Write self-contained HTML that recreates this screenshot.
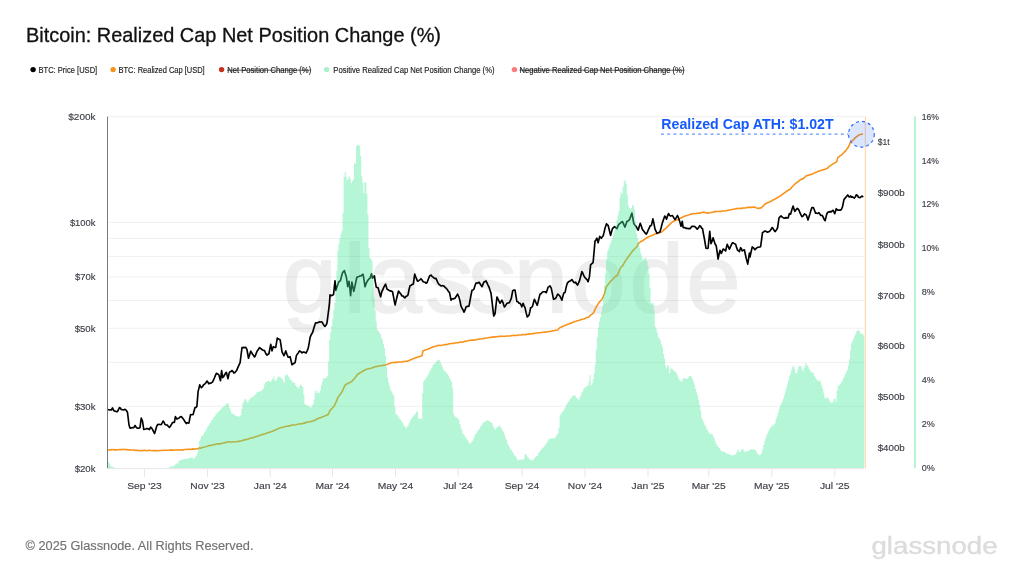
<!DOCTYPE html>
<html lang="en"><head><meta charset="utf-8"><title>Bitcoin: Realized Cap Net Position Change (%)</title>
<style>
html,body{margin:0;padding:0;background:#fff;}
body{width:1024px;height:576px;overflow:hidden;font-family:"Liberation Sans",Arial,Helvetica,sans-serif;}
svg{display:block;}
svg text{font-family:"Liberation Sans",Arial,Helvetica,sans-serif;}
.ax text{font-size:9.6px;fill:#3d4048;stroke:#3d4048;stroke-width:0.15px;}
.lg text{font-size:8.4px;fill:#1c1c1c;stroke:#1c1c1c;stroke-width:0.15px;}
</style></head><body>
<svg width="1024" height="576" viewBox="0 0 1024 576" style="will-change:transform">
<rect width="1024" height="576" fill="#fff"/>
<text x="26" y="41.5" font-size="19.9" fill="#111" stroke="#111" stroke-width="0.3" textLength="415" lengthAdjust="spacingAndGlyphs">Bitcoin: Realized Cap Net Position Change (%)</text>
<g class="lg">
<circle cx="33.1" cy="69.6" r="2.7" fill="#000"/><text x="38.5" y="72.6" textLength="58.7" lengthAdjust="spacingAndGlyphs">BTC: Price [USD]</text>
<circle cx="113.1" cy="69.6" r="2.7" fill="#f7931a"/><text x="118.5" y="72.6" textLength="86.2" lengthAdjust="spacingAndGlyphs">BTC: Realized Cap [USD]</text>
<circle cx="221.6" cy="69.6" r="2.7" fill="#c4321c"/><text x="227.2" y="72.6" textLength="84" lengthAdjust="spacingAndGlyphs">Net Position Change (%)</text><line x1="227.2" x2="311.2" y1="70.2" y2="70.2" stroke="#1c1c1c" stroke-width="0.7"/>
<circle cx="326.6" cy="69.6" r="2.7" fill="#a9f2cd"/><text x="333.3" y="72.6" textLength="161.2" lengthAdjust="spacingAndGlyphs">Positive Realized Cap Net Position Change (%)</text>
<circle cx="514.4" cy="69.6" r="2.7" fill="#ff7a7a"/><text x="519.5" y="72.6" textLength="165" lengthAdjust="spacingAndGlyphs">Negative Realized Cap Net Position Change (%)</text><line x1="519.5" x2="684.5" y1="70.2" y2="70.2" stroke="#1c1c1c" stroke-width="0.7"/>
</g>
<g stroke="#f1f1f1" stroke-width="1" shape-rendering="auto"><line x1="108.0" x2="864.5" y1="116.60" y2="116.60"/><line x1="108.0" x2="864.5" y1="222.46" y2="222.46"/><line x1="108.0" x2="864.5" y1="238.55" y2="238.55"/><line x1="108.0" x2="864.5" y1="256.54" y2="256.54"/><line x1="108.0" x2="864.5" y1="276.93" y2="276.93"/><line x1="108.0" x2="864.5" y1="300.47" y2="300.47"/><line x1="108.0" x2="864.5" y1="328.31" y2="328.31"/><line x1="108.0" x2="864.5" y1="362.39" y2="362.39"/><line x1="108.0" x2="864.5" y1="406.33" y2="406.33"/></g>
<g opacity="0.062"><text x="282.4 344 368.1 425.4 468.3 514 571.6 629.8 686.6" y="312" font-size="97" fill="#000" stroke="#000" stroke-width="2" stroke-linejoin="round">glassnode</text></g>
<polyline points="108.10,449.93 109.16,449.79 110.21,449.96 111.27,449.64 112.32,449.78 113.38,449.54 114.44,449.85 115.49,449.82 116.55,449.92 117.61,449.71 118.66,449.73 119.72,449.64 120.78,449.53 121.83,449.58 122.89,449.41 123.94,449.44 125.00,449.53 126.04,449.60 127.08,449.61 128.12,449.98 129.17,449.88 130.21,449.83 131.25,449.96 132.29,449.96 133.33,450.04 134.38,450.11 135.42,450.47 136.46,450.40 137.50,450.42 138.54,450.50 139.58,450.69 140.62,450.49 141.67,450.39 142.71,450.73 143.75,450.38 144.79,450.41 145.83,450.55 146.88,450.79 147.92,450.48 148.96,450.22 150.00,450.52 151.04,450.48 152.08,450.49 153.12,450.60 154.17,450.62 155.21,450.64 156.25,450.58 157.29,450.71 158.33,450.76 159.38,450.57 160.42,450.43 161.46,450.51 162.50,450.48 163.54,450.27 164.58,450.25 165.62,450.40 166.67,450.29 167.71,450.20 168.75,450.22 169.79,450.17 170.83,450.13 171.88,449.87 172.92,450.21 173.96,450.10 175.00,449.96 176.04,450.04 177.08,449.96 178.12,449.87 179.17,449.93 180.21,450.06 181.25,449.86 182.29,449.89 183.33,449.93 184.38,449.53 185.42,449.43 186.46,449.52 187.50,449.31 188.50,449.25 189.50,449.40 190.50,449.37 191.50,449.26 192.50,448.88 193.50,449.23 194.50,449.08 195.50,449.01 196.50,448.91 197.50,448.66 198.50,448.27 199.50,448.04 200.50,448.17 201.50,447.70 202.50,447.46 203.50,447.21 204.50,447.06 205.50,446.83 206.50,446.56 207.50,446.12 208.50,445.58 209.50,445.64 210.50,445.50 211.50,445.40 212.50,445.02 213.53,444.74 214.57,444.64 215.60,444.24 216.63,444.05 217.67,443.86 218.70,443.82 219.73,443.89 220.77,443.62 221.80,443.45 222.83,443.15 223.87,442.93 224.90,442.64 225.93,442.44 226.97,441.99 228.00,441.98 229.00,441.80 230.00,441.99 231.00,441.98 232.00,441.98 233.00,441.98 234.00,441.71 235.00,441.74 236.00,441.81 237.00,441.54 238.00,441.55 239.00,441.35 240.00,441.16 241.00,440.93 242.00,440.57 243.00,440.38 244.00,440.06 245.00,439.85 246.00,439.30 247.00,439.44 248.00,439.20 249.00,438.72 250.00,438.31 251.00,438.10 252.00,437.92 253.00,437.64 254.00,437.35 255.00,436.89 256.03,436.46 257.06,436.42 258.09,436.04 259.12,435.48 260.15,435.16 261.18,434.75 262.21,434.44 263.24,434.38 264.26,433.95 265.29,433.75 266.32,433.34 267.35,432.78 268.38,432.48 269.41,432.50 270.44,431.91 271.47,431.45 272.50,431.31 273.56,430.83 274.61,430.33 275.67,430.04 276.73,429.23 277.79,428.93 278.84,428.34 279.90,427.90 280.96,427.58 282.02,427.57 283.08,427.23 284.14,426.74 285.20,426.50 286.26,426.57 287.32,426.34 288.38,425.84 289.44,425.93 290.50,425.42 291.54,425.11 292.58,425.03 293.62,425.02 294.67,424.99 295.71,424.80 296.75,424.46 297.79,424.22 298.83,423.93 299.88,423.91 300.92,423.72 301.96,423.66 303.00,423.42 304.00,423.14 305.00,422.86 306.00,422.56 307.00,422.30 308.00,422.06 309.00,421.80 310.00,421.76 311.00,421.52 312.00,421.09 313.00,421.01 314.00,420.54 315.00,420.19 316.00,419.53 317.00,418.98 318.00,418.46 319.00,418.11 320.00,417.81 321.00,417.41 322.00,416.98 323.00,416.69 324.00,416.28 325.00,415.91 326.00,415.40 327.00,415.12 328.00,414.69 329.25,412.11 330.50,409.74 331.44,409.06 332.38,408.07 333.31,407.00 334.25,406.00 335.19,403.93 336.12,401.83 337.06,399.65 338.00,397.27 338.94,396.04 339.88,394.72 340.81,393.46 341.75,392.19 342.69,390.31 343.62,388.22 344.56,386.39 345.50,384.74 346.54,384.11 347.58,383.73 348.62,383.03 349.67,382.56 350.71,382.15 351.75,381.54 352.81,380.23 353.88,379.37 354.94,377.85 356.00,376.56 357.50,374.45 358.62,373.73 359.75,372.99 360.88,372.37 362.00,371.57 363.06,370.99 364.12,370.45 365.19,369.81 366.25,369.38 367.34,368.99 368.44,368.85 369.53,368.50 370.62,368.23 371.72,367.93 372.81,367.46 373.91,367.36 375.00,366.76 376.00,366.50 377.00,366.33 378.00,366.34 379.00,366.07 380.00,365.79 381.00,365.73 382.00,365.67 383.00,365.38 384.00,365.15 385.00,365.06 386.07,364.80 387.14,364.45 388.21,363.88 389.29,363.59 390.36,363.27 391.43,362.65 392.50,362.54 393.57,362.47 394.64,362.33 395.71,362.55 396.79,362.31 397.86,362.08 398.93,362.05 400.00,362.03 401.07,362.01 402.14,361.81 403.21,361.58 404.29,361.46 405.36,361.33 406.43,361.19 407.50,361.22 408.57,360.71 409.64,360.31 410.71,359.75 411.79,359.25 412.86,358.86 413.93,358.40 415.00,358.06 416.00,357.60 417.00,357.36 418.00,357.03 419.00,356.55 420.00,356.43 421.00,356.10 422.00,355.63 423.00,350.75 424.00,350.51 425.00,349.97 426.00,349.87 427.00,349.40 428.00,348.85 429.00,348.64 430.00,348.23 431.07,347.68 432.14,347.15 433.21,347.01 434.29,346.57 435.36,346.33 436.43,345.95 437.50,345.48 438.58,345.30 439.67,345.46 440.75,345.42 441.83,345.21 442.92,344.92 444.00,344.74 445.00,344.55 446.00,344.65 447.00,344.41 448.00,344.13 449.00,343.82 450.00,343.79 451.00,343.53 452.00,343.45 453.00,343.40 454.00,343.32 455.00,343.06 456.00,342.82 457.00,342.70 458.00,342.75 459.00,342.47 460.00,342.13 461.00,342.18 462.00,341.94 463.00,342.14 464.00,341.60 465.00,341.36 466.00,341.15 467.00,341.05 468.00,340.78 469.00,340.47 470.00,340.35 471.00,340.25 472.00,340.11 473.00,339.95 474.00,340.13 475.00,339.92 476.00,339.78 477.00,339.44 478.00,339.33 479.00,339.13 480.00,338.99 481.00,338.93 482.00,338.80 483.00,338.62 484.00,338.44 485.00,338.09 486.00,337.96 487.00,337.95 488.00,337.76 489.00,337.54 490.00,337.51 491.00,337.24 492.00,337.09 493.00,337.12 494.00,336.88 495.00,336.83 496.00,336.81 497.00,336.77 498.00,336.75 499.00,336.31 500.00,336.39 501.00,336.22 502.00,336.24 503.00,336.24 504.00,336.37 505.00,336.21 506.00,336.33 507.00,336.06 508.00,336.00 509.00,335.93 510.00,335.95 511.00,335.78 512.00,335.60 513.00,335.52 514.00,335.31 515.00,335.51 516.00,335.45 517.00,335.34 518.00,335.23 519.00,335.03 520.00,334.97 521.03,334.96 522.06,334.69 523.09,334.53 524.12,334.69 525.15,334.65 526.18,334.40 527.21,334.27 528.24,334.11 529.26,334.13 530.29,333.83 531.32,333.72 532.35,333.65 533.38,333.66 534.41,333.38 535.44,333.27 536.47,333.07 537.50,332.95 538.54,332.77 539.58,332.73 540.62,332.73 541.67,332.45 542.71,332.29 543.75,332.17 544.79,332.15 545.83,332.09 546.88,331.75 547.92,331.76 548.96,331.51 550.00,331.53 551.07,331.18 552.14,330.91 553.21,330.72 554.29,330.60 555.36,330.29 556.43,330.20 557.50,330.01 558.75,328.76 560.00,327.52 561.09,327.18 562.19,326.57 563.28,326.17 564.38,325.74 565.47,325.06 566.56,324.85 567.66,324.34 568.75,323.94 569.79,323.48 570.83,323.12 571.88,322.74 572.92,322.34 573.96,321.77 575.00,321.43 576.04,321.15 577.08,320.74 578.12,320.44 579.17,320.23 580.21,319.90 581.25,319.55 582.32,319.19 583.39,318.94 584.46,318.74 585.54,318.22 586.61,317.57 587.68,317.52 588.75,316.99 589.84,315.89 590.92,314.79 592.01,314.14 593.10,313.31 594.15,311.32 595.20,309.08 596.25,307.09 597.30,305.38 598.35,303.61 599.40,302.00 600.65,300.77 601.90,299.51 603.15,296.75 604.40,293.78 605.33,290.56 606.25,286.98 607.19,285.82 608.12,284.42 609.06,283.25 610.00,281.99 610.94,280.87 611.88,280.11 612.81,279.26 613.75,278.19 614.69,277.18 615.62,276.51 616.56,275.74 617.50,275.08 618.53,272.56 619.57,270.22 620.60,267.57 621.85,266.31 623.10,265.11 624.15,262.98 625.20,261.32 626.25,259.66 627.29,258.23 628.33,256.85 629.38,255.41 630.42,254.04 631.46,252.41 632.50,251.01 633.60,249.89 634.70,248.80 635.80,247.74 636.90,246.59 637.83,244.77 638.75,242.90 639.75,242.39 640.75,241.66 641.75,241.05 642.75,240.70 643.75,239.84 644.75,239.23 645.75,238.65 646.75,237.79 647.75,237.29 648.75,236.65 649.79,236.27 650.83,235.91 651.88,235.49 652.92,235.12 653.96,234.49 655.00,234.12 656.04,233.74 657.08,233.62 658.12,233.23 659.17,232.73 660.21,232.53 661.25,232.19 662.19,231.54 663.12,230.66 664.06,229.62 665.00,229.04 666.00,228.18 667.00,227.16 668.00,226.04 669.00,225.16 670.00,224.14 671.25,223.05 672.50,221.68 673.54,221.28 674.58,220.70 675.62,220.36 676.67,219.97 677.71,219.53 678.75,219.13 679.79,218.46 680.83,218.10 681.88,217.56 682.92,217.08 683.96,216.52 685.00,215.98 686.07,215.70 687.14,215.46 688.21,215.03 689.29,214.75 690.36,214.31 691.43,214.10 692.50,213.75 693.57,213.52 694.64,213.69 695.71,213.44 696.79,213.42 697.86,213.20 698.93,213.02 700.00,213.20 700.94,212.80 701.88,212.43 702.81,212.37 703.75,212.14 704.84,212.37 705.92,212.87 707.01,212.90 708.10,213.12 709.09,212.97 710.07,212.73 711.06,212.46 712.04,212.42 713.03,212.07 714.01,211.87 715.00,211.61 716.00,211.40 717.00,211.48 718.00,211.43 719.00,211.44 720.00,211.41 721.00,211.46 722.00,211.02 723.00,211.01 724.00,210.97 725.00,210.94 726.04,210.80 727.08,210.58 728.12,210.39 729.17,209.98 730.21,209.79 731.25,209.69 732.29,209.47 733.33,209.24 734.38,209.08 735.42,208.87 736.46,208.57 737.50,208.58 738.54,208.40 739.58,208.43 740.62,208.39 741.67,208.38 742.71,208.14 743.75,208.04 744.77,208.01 745.80,207.94 746.82,207.53 747.84,207.31 748.86,207.42 749.89,207.40 750.91,207.34 751.93,207.33 752.95,207.09 753.98,207.38 755.00,207.10 756.03,207.71 757.07,208.10 758.10,208.39 759.15,208.26 760.20,208.02 761.25,207.91 762.19,206.95 763.12,206.08 764.06,204.97 765.00,204.07 766.00,203.58 767.00,203.00 768.00,202.52 769.00,202.15 770.00,201.72 771.00,201.15 772.00,200.71 773.00,200.00 774.00,199.52 775.00,199.11 776.00,198.55 777.00,197.76 778.00,197.28 779.00,196.65 780.00,196.08 781.00,195.46 782.00,194.71 783.00,193.89 784.00,193.23 785.00,192.45 786.00,191.75 787.00,191.00 788.00,190.41 789.00,189.80 790.00,189.36 791.00,188.29 792.00,187.04 793.00,186.04 794.00,185.03 795.00,183.96 796.00,183.16 797.00,182.41 798.00,181.59 799.00,180.96 800.00,180.02 801.03,179.61 802.07,178.89 803.10,178.76 804.15,177.94 805.20,176.69 806.25,175.94 807.25,175.50 808.25,175.13 809.25,174.97 810.25,174.66 811.25,174.54 812.29,173.98 813.33,173.39 814.38,173.00 815.42,172.60 816.46,172.19 817.50,171.65 818.57,171.11 819.64,170.79 820.71,170.53 821.79,170.14 822.86,169.97 823.93,169.56 825.00,169.24 826.25,168.70 827.50,168.24 828.75,166.82 830.00,165.85 831.12,165.11 832.24,164.40 833.36,163.62 834.48,163.15 835.60,162.51 836.90,161.39 837.75,157.67 838.92,156.88 840.08,155.91 841.25,155.17 842.19,154.19 843.12,153.25 844.06,152.33 845.00,151.37 846.03,150.16 847.07,148.73 848.10,147.47 849.35,144.86 850.60,141.97 851.85,140.99 853.10,140.11 854.15,139.01 855.20,137.88 856.25,136.96 857.30,136.11 858.35,135.52 859.40,134.73 860.35,134.42 861.30,134.26 862.25,133.90" fill="none" stroke="#f7931a" stroke-width="1.6" stroke-linejoin="round" stroke-linecap="round"/>
<polyline points="108.50,409.71 109.42,409.96 110.33,409.89 111.25,409.95 112.50,407.95 113.75,410.52 114.69,411.14 115.62,411.31 116.56,411.73 117.50,411.69 118.45,409.72 119.40,407.55 120.33,407.98 121.25,409.46 122.34,409.74 123.42,409.91 124.51,409.40 125.60,409.67 126.55,410.79 127.50,412.36 129.00,425.00 130.00,428.09 130.94,428.10 131.88,427.65 132.81,427.70 133.75,427.57 135.00,425.52 136.25,427.32 137.50,428.25 138.75,428.25 140.00,427.47 141.25,417.98 142.50,421.16 143.75,429.36 144.80,429.26 145.85,428.92 146.90,428.45 148.15,428.81 149.40,429.62 150.60,427.05 151.55,427.99 152.50,429.41 153.55,431.71 154.60,433.55 155.75,429.57 156.90,425.78 157.82,424.50 158.75,424.28 160.00,424.47 161.25,424.61 162.18,422.94 163.10,421.00 164.05,422.26 165.00,424.46 166.25,424.94 167.50,425.18 168.45,426.66 169.40,427.39 170.32,426.24 171.25,424.82 172.50,422.54 173.45,422.34 174.40,422.41 175.40,416.68 176.90,419.19 177.82,418.46 178.75,418.25 180.00,416.98 181.25,416.60 182.50,418.04 183.75,419.60 185.00,421.87 186.25,423.51 187.17,422.63 188.08,423.15 189.00,422.97 189.80,418.33 190.60,414.48 191.85,414.78 193.10,414.48 194.05,411.07 195.00,407.58 195.95,407.40 196.90,406.42 198.10,391.38 198.93,388.37 199.75,384.80 200.57,386.52 201.40,387.68 202.43,386.74 203.47,384.92 204.50,384.23 205.75,382.97 207.00,381.00 207.95,382.30 208.90,383.87 209.82,382.97 210.75,383.21 211.68,382.64 212.60,381.92 213.55,379.81 214.50,377.73 215.45,375.40 216.40,373.29 217.65,373.96 218.90,374.92 219.70,378.07 220.50,380.64 221.60,370.48 222.60,377.61 223.55,376.75 224.50,375.02 225.45,373.34 226.40,372.42 227.20,375.53 228.00,378.69 229.25,372.69 230.17,371.67 231.08,371.55 232.00,370.46 232.95,371.53 233.90,373.15 235.15,372.22 236.40,370.78 237.32,368.79 238.25,366.66 239.18,364.60 240.10,362.60 241.05,355.01 242.00,347.54 242.94,347.63 243.88,347.43 244.81,347.56 245.75,347.37 247.00,349.74 248.50,358.25 249.62,354.64 250.75,351.19 251.69,352.62 252.62,354.34 253.56,355.47 254.50,356.95 255.45,355.58 256.40,352.80 257.43,350.72 258.47,349.29 259.50,347.55 260.53,348.43 261.57,349.07 262.60,350.08 263.55,350.43 264.50,350.54 265.75,353.49 267.00,355.16 267.95,354.30 268.90,353.72 269.82,348.99 270.75,344.38 272.00,350.83 273.25,346.70 274.50,347.38 275.75,347.35 277.25,338.05 278.20,338.79 279.15,339.30 280.10,339.67 281.05,345.30 282.00,351.80 282.95,353.58 283.90,355.67 284.82,353.79 285.75,350.90 287.00,354.49 288.25,357.30 289.18,357.29 290.10,356.69 291.05,360.68 292.00,364.77 293.03,363.96 294.07,363.27 295.10,362.63 296.40,355.66 297.43,353.94 298.47,352.73 299.50,350.83 300.75,351.60 302.00,352.92 302.95,352.11 303.90,352.02 304.95,352.49 306.00,353.12 307.12,350.82 308.25,348.17 309.18,343.03 310.10,337.31 311.35,334.43 312.60,332.51 313.60,329.05 314.60,325.77 315.60,322.72 316.65,322.88 317.70,322.62 318.75,322.26 319.80,321.88 320.85,321.96 321.90,321.82 322.93,323.59 323.97,325.45 325.00,326.34 325.95,325.26 326.90,323.46 328.15,313.95 329.40,304.22 330.00,294.88 331.25,295.77 332.38,295.08 333.50,294.78 335.00,280.82 335.90,290.35 336.85,287.04 337.80,284.59 338.75,281.67 339.68,281.35 340.60,280.16 341.55,276.16 342.50,272.72 343.45,271.66 344.40,270.54 345.32,273.90 346.25,276.43 347.75,286.66 349.00,281.24 349.80,287.92 350.60,295.78 351.90,282.06 352.82,286.55 353.75,291.38 354.80,286.84 355.85,281.89 356.90,277.21 357.93,276.69 358.97,276.51 360.00,276.03 361.03,275.90 362.07,274.74 363.10,274.38 364.05,280.14 365.00,286.76 366.25,283.15 367.50,280.80 368.75,279.16 370.00,278.20 371.50,273.86 372.50,278.23 373.45,276.81 374.40,275.76 375.32,281.92 376.25,287.09 377.18,287.51 378.10,287.78 379.35,292.35 380.60,296.82 381.90,291.26 382.82,289.79 383.75,287.28 384.68,285.54 385.60,284.11 387.00,289.15 388.10,289.69 389.20,290.47 390.30,290.93 391.40,291.09 392.50,291.72 393.37,295.97 394.23,300.84 395.10,304.94 396.23,300.13 397.37,295.54 398.50,291.02 399.67,292.66 400.83,294.02 402.00,295.99 403.00,295.95 404.00,297.22 405.00,297.89 406.00,296.35 407.00,296.02 408.00,294.96 409.00,289.81 410.00,285.76 411.10,285.28 412.20,284.51 413.30,284.09 414.70,274.14 415.63,276.62 416.57,278.85 417.50,281.23 418.67,280.67 419.83,279.90 421.00,278.72 422.00,280.10 423.00,281.42 424.00,282.02 425.00,282.20 426.00,283.21 427.00,282.82 428.20,279.53 429.40,276.37 430.32,275.44 431.25,275.09 432.17,276.62 433.08,277.15 434.00,278.11 435.00,278.58 436.00,278.41 437.00,280.67 438.00,283.03 439.00,284.27 440.00,285.07 441.00,285.98 442.00,285.68 443.00,285.80 444.00,286.10 445.17,287.43 446.33,288.44 447.50,289.84 448.50,291.70 449.50,292.28 451.00,300.18 452.00,298.83 453.00,298.99 454.00,298.64 455.00,298.27 456.25,296.29 457.50,294.03 459.00,297.09 460.00,300.97 461.00,306.08 462.00,308.14 463.00,309.83 464.00,312.17 465.00,310.15 466.00,306.89 467.00,306.40 468.00,306.34 469.00,306.03 470.00,300.56 471.00,295.01 472.00,290.27 473.00,289.97 474.00,288.89 475.00,285.53 476.00,283.19 477.00,283.07 478.00,283.00 479.00,282.22 480.00,283.54 481.00,285.37 482.00,286.68 483.00,284.08 484.00,281.93 485.00,281.61 486.00,280.91 487.00,282.91 488.00,285.11 489.00,287.07 490.00,290.24 491.00,293.07 491.92,300.61 492.83,308.55 493.75,316.04 495.00,313.89 496.00,305.25 497.00,296.96 498.00,299.03 499.00,301.20 500.00,303.25 500.95,301.73 501.90,300.09 503.15,303.17 504.40,307.01 505.65,305.44 506.90,303.36 508.15,302.94 509.40,302.67 510.32,300.50 511.25,298.58 512.75,290.66 513.88,290.09 515.00,290.16 515.95,295.76 516.90,301.56 517.93,301.84 518.97,303.13 520.00,303.24 520.95,304.71 521.90,306.82 523.10,303.27 524.05,305.59 525.00,307.65 526.12,312.65 527.25,316.93 528.12,316.03 529.00,315.20 529.80,311.91 530.60,307.83 531.55,307.44 532.50,306.30 533.45,302.72 534.40,299.34 535.35,301.17 536.30,303.46 537.25,305.24 538.17,301.72 539.08,297.68 540.00,294.29 541.25,293.56 542.50,292.06 543.75,291.76 545.00,291.80 546.25,292.67 547.17,290.10 548.10,287.19 549.05,286.62 550.00,285.84 551.25,288.23 552.38,293.67 553.50,299.08 554.55,298.92 555.60,298.31 556.67,296.36 557.75,294.02 558.75,294.96 559.75,295.78 560.83,297.87 561.90,300.19 562.83,296.42 563.75,293.12 565.00,292.56 565.95,288.09 566.90,284.37 567.70,282.57 568.50,281.80 569.63,281.21 570.77,280.52 571.90,279.52 572.83,280.99 573.75,282.38 574.67,282.72 575.60,282.14 576.55,283.96 577.50,285.03 578.45,283.15 579.40,281.11 580.65,276.46 581.90,271.55 582.83,273.10 583.75,275.67 584.88,277.47 586.00,278.66 587.05,279.76 588.10,281.74 589.40,276.83 590.60,264.84 591.85,263.70 593.10,262.62 594.05,252.00 595.00,241.14 595.95,239.98 596.90,238.15 598.10,242.78 598.92,239.53 599.75,236.41 601.25,238.28 602.17,237.09 603.10,235.98 604.05,232.38 605.00,228.28 606.50,223.85 607.30,224.59 608.10,225.35 609.35,230.27 610.60,235.37 611.55,231.71 612.50,228.57 613.45,227.70 614.40,226.61 615.65,227.48 616.90,228.69 618.15,225.58 619.40,223.83 620.43,223.11 621.47,221.94 622.50,221.56 623.75,224.44 625.00,227.05 625.95,224.23 626.90,221.52 628.15,220.77 629.40,219.86 630.65,216.55 631.90,213.13 632.83,218.26 633.75,223.47 635.00,225.25 636.25,226.67 637.17,228.33 638.10,230.17 639.17,226.70 640.25,223.35 641.38,226.20 642.50,229.67 643.44,230.64 644.38,231.90 645.31,233.16 646.25,234.06 647.19,232.75 648.12,230.16 649.06,228.39 650.00,226.07 651.50,225.19 652.90,218.80 653.95,223.69 655.00,229.08 655.95,231.17 656.90,233.28 657.93,232.79 658.97,232.51 660.00,231.79 661.25,227.32 662.50,222.39 663.62,219.16 664.75,216.08 665.62,217.28 666.50,219.24 667.50,216.08 668.50,213.50 669.55,215.39 670.60,216.06 671.55,215.74 672.50,215.58 673.75,217.69 675.00,219.65 676.25,217.59 677.50,215.49 679.00,219.23 680.00,222.40 681.00,226.24 682.25,221.32 683.10,227.35 684.05,227.64 685.00,227.66 685.95,228.40 686.90,228.20 687.93,228.59 688.97,228.49 690.00,228.63 690.95,227.52 691.90,226.22 692.93,226.33 693.97,226.24 695.00,226.70 696.12,227.89 697.25,229.15 698.50,227.74 699.75,225.64 700.67,226.42 701.58,228.15 702.50,228.60 703.45,233.95 704.40,238.75 705.20,243.61 706.00,248.23 707.05,248.57 708.10,248.16 708.92,239.54 709.75,231.34 711.00,243.78 712.05,241.16 713.10,237.86 714.05,240.80 715.00,243.75 716.25,245.97 717.17,252.20 718.10,259.05 719.05,254.29 720.00,250.32 721.25,253.52 722.17,251.45 723.10,249.09 724.35,249.77 725.60,250.98 726.42,247.39 727.25,244.31 728.33,246.96 729.40,249.14 730.43,246.91 731.47,244.72 732.50,242.72 733.53,243.09 734.57,243.72 735.60,244.18 736.55,247.14 737.50,250.10 738.45,250.67 739.40,251.60 740.60,247.67 741.42,248.82 742.25,250.88 743.33,250.35 744.40,249.77 745.33,254.26 746.25,258.48 747.75,264.15 748.58,258.55 749.40,253.02 750.00,257.00 751.12,251.71 752.25,246.94 753.17,247.57 754.08,248.42 755.00,249.78 756.25,248.32 757.50,247.32 758.53,247.30 759.57,246.99 760.60,246.70 761.55,239.78 762.50,232.69 763.75,231.82 765.00,231.05 766.25,231.50 767.50,232.22 768.75,231.83 770.00,230.90 771.12,229.26 772.25,227.55 773.17,228.71 774.08,230.20 775.00,231.58 776.25,230.20 777.50,228.02 779.00,218.07 780.00,216.84 781.00,215.98 782.05,216.94 783.10,217.63 784.10,218.17 785.10,218.25 786.10,217.48 787.10,218.00 788.10,217.89 789.40,213.57 790.60,214.17 791.85,209.70 793.10,206.01 794.00,209.14 794.90,211.37 796.05,209.68 797.20,208.35 798.15,209.03 799.10,210.47 800.03,212.99 800.97,214.78 801.90,216.58 802.80,216.38 803.70,214.89 804.60,213.91 805.42,214.55 806.25,215.00 807.12,217.30 808.00,219.99 809.00,216.86 810.00,213.63 810.95,210.28 811.90,207.61 812.70,207.49 813.50,207.74 814.55,210.49 815.60,213.29 816.70,213.19 817.80,213.44 819.00,212.75 819.80,213.89 820.60,215.33 821.55,215.35 822.50,215.79 823.37,217.65 824.23,219.59 825.10,220.72 826.00,217.14 826.90,213.63 827.95,212.32 829.00,211.84 830.12,211.66 831.25,211.92 832.17,210.92 833.10,210.25 833.92,211.98 834.75,213.76 836.25,208.67 837.17,209.72 838.10,210.24 839.15,209.98 840.20,210.17 841.25,209.78 842.50,206.73 844.00,199.35 844.80,198.67 845.60,197.51 846.67,196.35 847.75,194.92 849.00,196.92 849.80,196.96 850.60,195.97 851.55,197.14 852.50,196.91 853.45,197.51 854.40,198.13 855.33,196.87 856.25,194.86 857.38,195.41 858.50,197.23 860.00,197.61 860.95,196.81 861.90,196.03 862.75,196.60" fill="none" stroke="#000" stroke-width="1.65" stroke-linejoin="round" stroke-linecap="round"/>
<path d="M108,468.25 L108.00,461.88 L109.03,461.88 L109.03,463.44 L110.07,463.44 L110.07,465.57 L111.10,465.57 L111.10,466.79 L112.13,466.79 L112.13,466.72 L113.17,466.72 L113.17,467.36 L114.20,467.36 L114.20,467.76 L115.23,467.76 L115.23,468.18 L116.27,468.18 L116.27,468.01 L117.30,468.01 L117.30,468.21 L118.34,468.21 L118.34,468.25 L119.37,468.25 L119.37,468.25 L120.40,468.25 L120.40,468.25 L121.44,468.25 L121.44,468.25 L122.47,468.25 L122.47,468.25 L123.50,468.25 L123.50,468.25 L124.54,468.25 L124.54,468.25 L125.57,468.25 L125.57,468.25 L126.60,468.25 L126.60,468.25 L127.64,468.25 L127.64,468.25 L128.67,468.25 L128.67,468.25 L129.70,468.25 L129.70,468.25 L130.74,468.25 L130.74,468.25 L131.77,468.25 L131.77,468.25 L132.80,468.25 L132.80,468.25 L133.84,468.25 L133.84,468.25 L134.87,468.25 L134.87,468.25 L135.90,468.25 L135.90,468.25 L136.94,468.25 L136.94,468.25 L137.97,468.25 L137.97,468.25 L139.01,468.25 L139.01,468.25 L140.04,468.25 L140.04,468.25 L141.07,468.25 L141.07,468.25 L142.11,468.25 L142.11,468.25 L143.14,468.25 L143.14,468.25 L144.17,468.25 L144.17,468.25 L145.21,468.25 L145.21,468.25 L146.24,468.25 L146.24,468.25 L147.27,468.25 L147.27,468.25 L148.31,468.25 L148.31,468.25 L149.34,468.25 L149.34,468.25 L150.37,468.25 L150.37,468.25 L151.41,468.25 L151.41,468.25 L152.44,468.25 L152.44,468.25 L153.47,468.25 L153.47,468.25 L154.51,468.25 L154.51,468.25 L155.54,468.25 L155.54,468.25 L156.57,468.25 L156.57,468.25 L157.61,468.25 L157.61,468.25 L158.64,468.25 L158.64,468.25 L159.68,468.25 L159.68,468.25 L160.71,468.25 L160.71,468.25 L161.74,468.25 L161.74,468.25 L162.78,468.25 L162.78,468.25 L163.81,468.25 L163.81,468.25 L164.84,468.25 L164.84,468.25 L165.88,468.25 L165.88,468.25 L166.91,468.25 L166.91,468.25 L167.94,468.25 L167.94,468.04 L168.98,468.04 L168.98,467.13 L170.01,467.13 L170.01,466.62 L171.04,466.62 L171.04,466.84 L172.08,466.84 L172.08,466.28 L173.11,466.28 L173.11,466.17 L174.14,466.17 L174.14,465.50 L175.18,465.50 L175.18,464.35 L176.21,464.35 L176.21,463.38 L177.24,463.38 L177.24,463.47 L178.28,463.47 L178.28,461.56 L179.31,461.56 L179.31,460.48 L180.35,460.48 L180.35,459.88 L181.38,459.88 L181.38,459.93 L182.41,459.93 L182.41,459.57 L183.45,459.57 L183.45,459.01 L184.48,459.01 L184.48,458.73 L185.51,458.73 L185.51,458.67 L186.55,458.67 L186.55,458.65 L187.58,458.65 L187.58,458.62 L188.61,458.62 L188.61,458.14 L189.65,458.14 L189.65,457.26 L190.68,457.26 L190.68,457.96 L191.71,457.96 L191.71,457.05 L192.75,457.05 L192.75,459.18 L193.78,459.18 L193.78,457.69 L194.81,457.69 L194.81,457.17 L195.85,457.17 L195.85,455.86 L196.88,455.86 L196.88,453.35 L197.91,453.35 L197.91,448.93 L198.95,448.93 L198.95,441.10 L199.98,441.10 L199.98,439.32 L201.02,439.32 L201.02,436.61 L202.05,436.61 L202.05,435.43 L203.08,435.43 L203.08,434.21 L204.12,434.21 L204.12,432.25 L205.15,432.25 L205.15,430.69 L206.18,430.69 L206.18,428.87 L207.22,428.87 L207.22,426.76 L208.25,426.76 L208.25,425.59 L209.28,425.59 L209.28,423.38 L210.32,423.38 L210.32,422.60 L211.35,422.60 L211.35,420.05 L212.38,420.05 L212.38,419.01 L213.42,419.01 L213.42,417.36 L214.45,417.36 L214.45,416.29 L215.48,416.29 L215.48,414.33 L216.52,414.33 L216.52,413.48 L217.55,413.48 L217.55,411.89 L218.58,411.89 L218.58,411.34 L219.62,411.34 L219.62,410.08 L220.65,410.08 L220.65,408.88 L221.69,408.88 L221.69,407.53 L222.72,407.53 L222.72,407.05 L223.75,407.05 L223.75,405.96 L224.79,405.96 L224.79,405.39 L225.82,405.39 L225.82,403.70 L226.85,403.70 L226.85,403.04 L227.89,403.04 L227.89,404.04 L228.92,404.04 L228.92,407.81 L229.95,407.81 L229.95,410.37 L230.99,410.37 L230.99,412.95 L232.02,412.95 L232.02,413.69 L233.05,413.69 L233.05,414.07 L234.09,414.07 L234.09,414.81 L235.12,414.81 L235.12,415.64 L236.15,415.64 L236.15,416.21 L237.19,416.21 L237.19,416.27 L238.22,416.27 L238.22,416.55 L239.25,416.55 L239.25,416.70 L240.29,416.70 L240.29,415.14 L241.32,415.14 L241.32,409.09 L242.36,409.09 L242.36,403.27 L243.39,403.27 L243.39,401.51 L244.42,401.51 L244.42,399.23 L245.46,399.23 L245.46,399.35 L246.49,399.35 L246.49,402.67 L247.52,402.67 L247.52,401.86 L248.56,401.86 L248.56,400.30 L249.59,400.30 L249.59,398.66 L250.62,398.66 L250.62,397.22 L251.66,397.22 L251.66,397.73 L252.69,397.73 L252.69,396.76 L253.72,396.76 L253.72,395.47 L254.76,395.47 L254.76,394.64 L255.79,394.64 L255.79,393.39 L256.82,393.39 L256.82,392.00 L257.86,392.00 L257.86,391.80 L258.89,391.80 L258.89,391.53 L259.92,391.53 L259.92,391.35 L260.96,391.35 L260.96,390.77 L261.99,390.77 L261.99,389.47 L263.03,389.47 L263.03,388.62 L264.06,388.62 L264.06,384.48 L265.09,384.48 L265.09,382.24 L266.13,382.24 L266.13,381.94 L267.16,381.94 L267.16,381.03 L268.19,381.03 L268.19,380.66 L269.23,380.66 L269.23,381.39 L270.26,381.39 L270.26,382.20 L271.29,382.20 L271.29,380.28 L272.33,380.28 L272.33,378.83 L273.36,378.83 L273.36,376.28 L274.39,376.28 L274.39,380.14 L275.43,380.14 L275.43,381.05 L276.46,381.05 L276.46,378.97 L277.49,378.97 L277.49,376.41 L278.53,376.41 L278.53,376.85 L279.56,376.85 L279.56,377.05 L280.59,377.05 L280.59,377.99 L281.63,377.99 L281.63,378.87 L282.66,378.87 L282.66,380.87 L283.70,380.87 L283.70,382.91 L284.73,382.91 L284.73,375.66 L285.76,375.66 L285.76,374.85 L286.80,374.85 L286.80,374.55 L287.83,374.55 L287.83,376.45 L288.86,376.45 L288.86,377.42 L289.90,377.42 L289.90,379.65 L290.93,379.65 L290.93,380.30 L291.96,380.30 L291.96,381.94 L293.00,381.94 L293.00,382.62 L294.03,382.62 L294.03,382.80 L295.06,382.80 L295.06,384.99 L296.10,384.99 L296.10,386.74 L297.13,386.74 L297.13,387.28 L298.16,387.28 L298.16,388.64 L299.20,388.64 L299.20,385.95 L300.23,385.95 L300.23,384.17 L301.26,384.17 L301.26,385.66 L302.30,385.66 L302.30,387.07 L303.33,387.07 L303.33,394.50 L304.37,394.50 L304.37,404.01 L305.40,404.01 L305.40,404.65 L306.43,404.65 L306.43,405.49 L307.47,405.49 L307.47,405.85 L308.50,405.85 L308.50,406.24 L309.53,406.24 L309.53,406.65 L310.57,406.65 L310.57,407.80 L311.60,407.80 L311.60,405.39 L312.63,405.39 L312.63,403.99 L313.67,403.99 L313.67,399.31 L314.70,399.31 L314.70,390.70 L315.73,390.70 L315.73,393.04 L316.77,393.04 L316.77,390.79 L317.80,390.79 L317.80,393.35 L318.83,393.35 L318.83,392.68 L319.87,392.68 L319.87,390.49 L320.90,390.49 L320.90,385.13 L321.93,385.13 L321.93,381.67 L322.97,381.67 L322.97,377.99 L324.00,377.99 L324.00,378.82 L325.04,378.82 L325.04,378.19 L326.07,378.19 L326.07,377.37 L327.10,377.37 L327.10,375.77 L328.14,375.77 L328.14,361.57 L329.17,361.57 L329.17,340.02 L330.20,340.02 L330.20,332.55 L331.24,332.55 L331.24,325.72 L332.27,325.72 L332.27,318.81 L333.30,318.81 L333.30,310.19 L334.34,310.19 L334.34,302.63 L335.37,302.63 L335.37,289.61 L336.40,289.61 L336.40,270.72 L337.44,270.72 L337.44,250.13 L338.47,250.13 L338.47,243.40 L339.50,243.40 L339.50,237.90 L340.54,237.90 L340.54,233.67 L341.57,233.67 L341.57,230.61 L342.60,230.61 L342.60,212.83 L343.64,212.83 L343.64,176.94 L344.67,176.94 L344.67,171.85 L345.71,171.85 L345.71,176.98 L346.74,176.98 L346.74,180.35 L347.77,180.35 L347.77,178.38 L348.81,178.38 L348.81,176.23 L349.84,176.23 L349.84,179.03 L350.87,179.03 L350.87,183.26 L351.91,183.26 L351.91,181.00 L352.94,181.00 L352.94,179.41 L353.97,179.41 L353.97,163.19 L355.01,163.19 L355.01,163.67 L356.04,163.67 L356.04,146.12 L357.07,146.12 L357.07,144.94 L358.11,144.94 L358.11,145.08 L359.14,145.08 L359.14,146.16 L360.17,146.16 L360.17,156.00 L361.21,156.00 L361.21,175.79 L362.24,175.79 L362.24,182.69 L363.27,182.69 L363.27,192.97 L364.31,192.97 L364.31,182.59 L365.34,182.59 L365.34,182.25 L366.38,182.25 L366.38,193.77 L367.41,193.77 L367.41,214.57 L368.44,214.57 L368.44,248.15 L369.48,248.15 L369.48,258.08 L370.51,258.08 L370.51,259.06 L371.54,259.06 L371.54,261.12 L372.58,261.12 L372.58,274.92 L373.61,274.92 L373.61,297.15 L374.64,297.15 L374.64,310.51 L375.68,310.51 L375.68,321.44 L376.71,321.44 L376.71,328.66 L377.74,328.66 L377.74,330.95 L378.78,330.95 L378.78,332.30 L379.81,332.30 L379.81,333.97 L380.84,333.97 L380.84,337.42 L381.88,337.42 L381.88,339.49 L382.91,339.49 L382.91,344.17 L383.94,344.17 L383.94,347.96 L384.98,347.96 L384.98,355.79 L386.01,355.79 L386.01,367.08 L387.05,367.08 L387.05,377.03 L388.08,377.03 L388.08,382.32 L389.11,382.32 L389.11,386.13 L390.15,386.13 L390.15,389.98 L391.18,389.98 L391.18,391.69 L392.21,391.69 L392.21,393.70 L393.25,393.70 L393.25,395.45 L394.28,395.45 L394.28,406.56 L395.31,406.56 L395.31,413.54 L396.35,413.54 L396.35,415.06 L397.38,415.06 L397.38,415.58 L398.41,415.58 L398.41,417.53 L399.45,417.53 L399.45,418.92 L400.48,418.92 L400.48,420.08 L401.51,420.08 L401.51,422.08 L402.55,422.08 L402.55,423.73 L403.58,423.73 L403.58,425.66 L404.61,425.66 L404.61,426.67 L405.65,426.67 L405.65,428.32 L406.68,428.32 L406.68,426.59 L407.72,426.59 L407.72,425.40 L408.75,425.40 L408.75,423.10 L409.78,423.10 L409.78,420.61 L410.82,420.61 L410.82,418.73 L411.85,418.73 L411.85,417.45 L412.88,417.45 L412.88,416.24 L413.92,416.24 L413.92,414.86 L414.95,414.86 L414.95,413.57 L415.98,413.57 L415.98,412.01 L417.02,412.01 L417.02,411.22 L418.05,411.22 L418.05,418.23 L419.08,418.23 L419.08,418.94 L420.12,418.94 L420.12,418.77 L421.15,418.77 L421.15,418.67 L422.18,418.67 L422.18,393.37 L423.22,393.37 L423.22,381.60 L424.25,381.60 L424.25,379.82 L425.28,379.82 L425.28,378.68 L426.32,378.68 L426.32,377.26 L427.35,377.26 L427.35,375.25 L428.39,375.25 L428.39,373.17 L429.42,373.17 L429.42,371.03 L430.45,371.03 L430.45,368.94 L431.49,368.94 L431.49,367.56 L432.52,367.56 L432.52,364.78 L433.55,364.78 L433.55,364.27 L434.59,364.27 L434.59,362.91 L435.62,362.91 L435.62,361.67 L436.65,361.67 L436.65,360.68 L437.69,360.68 L437.69,359.80 L438.72,359.80 L438.72,359.87 L439.75,359.87 L439.75,362.12 L440.79,362.12 L440.79,364.28 L441.82,364.28 L441.82,366.78 L442.85,366.78 L442.85,369.47 L443.89,369.47 L443.89,370.68 L444.92,370.68 L444.92,371.71 L445.95,371.71 L445.95,372.96 L446.99,372.96 L446.99,374.31 L448.02,374.31 L448.02,375.50 L449.06,375.50 L449.06,378.28 L450.09,378.28 L450.09,380.08 L451.12,380.08 L451.12,381.94 L452.16,381.94 L452.16,388.57 L453.19,388.57 L453.19,413.66 L454.22,413.66 L454.22,416.25 L455.26,416.25 L455.26,417.30 L456.29,417.30 L456.29,417.52 L457.32,417.52 L457.32,418.54 L458.36,418.54 L458.36,420.09 L459.39,420.09 L459.39,424.17 L460.42,424.17 L460.42,427.75 L461.46,427.75 L461.46,430.32 L462.49,430.32 L462.49,433.68 L463.52,433.68 L463.52,434.83 L464.56,434.83 L464.56,436.48 L465.59,436.48 L465.59,438.08 L466.62,438.08 L466.62,439.81 L467.66,439.81 L467.66,440.94 L468.69,440.94 L468.69,442.88 L469.73,442.88 L469.73,443.64 L470.76,443.64 L470.76,442.42 L471.79,442.42 L471.79,441.15 L472.83,441.15 L472.83,439.55 L473.86,439.55 L473.86,436.65 L474.89,436.65 L474.89,434.34 L475.93,434.34 L475.93,432.98 L476.96,432.98 L476.96,430.96 L477.99,430.96 L477.99,430.43 L479.03,430.43 L479.03,428.38 L480.06,428.38 L480.06,426.38 L481.09,426.38 L481.09,425.41 L482.13,425.41 L482.13,423.83 L483.16,423.83 L483.16,422.30 L484.19,422.30 L484.19,421.91 L485.23,421.91 L485.23,421.23 L486.26,421.23 L486.26,420.55 L487.29,420.55 L487.29,420.28 L488.33,420.28 L488.33,420.89 L489.36,420.89 L489.36,421.85 L490.40,421.85 L490.40,422.35 L491.43,422.35 L491.43,423.02 L492.46,423.02 L492.46,425.48 L493.50,425.48 L493.50,427.66 L494.53,427.66 L494.53,430.10 L495.56,430.10 L495.56,428.24 L496.60,428.24 L496.60,427.59 L497.63,427.59 L497.63,426.79 L498.66,426.79 L498.66,424.90 L499.70,424.90 L499.70,426.64 L500.73,426.64 L500.73,427.95 L501.76,427.95 L501.76,430.05 L502.80,430.05 L502.80,431.68 L503.83,431.68 L503.83,434.22 L504.86,434.22 L504.86,437.41 L505.90,437.41 L505.90,439.69 L506.93,439.69 L506.93,443.22 L507.96,443.22 L507.96,445.24 L509.00,445.24 L509.00,447.08 L510.03,447.08 L510.03,449.22 L511.07,449.22 L511.07,450.16 L512.10,450.16 L512.10,451.97 L513.13,451.97 L513.13,453.99 L514.17,453.99 L514.17,455.66 L515.20,455.66 L515.20,456.18 L516.23,456.18 L516.23,458.54 L517.27,458.54 L517.27,460.18 L518.30,460.18 L518.30,460.02 L519.33,460.02 L519.33,459.60 L520.37,459.60 L520.37,459.56 L521.40,459.56 L521.40,459.75 L522.43,459.75 L522.43,459.53 L523.47,459.53 L523.47,458.97 L524.50,458.97 L524.50,454.87 L525.53,454.87 L525.53,453.92 L526.57,453.92 L526.57,456.22 L527.60,456.22 L527.60,457.55 L528.63,457.55 L528.63,458.45 L529.67,458.45 L529.67,459.88 L530.70,459.88 L530.70,459.69 L531.74,459.69 L531.74,460.46 L532.77,460.46 L532.77,459.80 L533.80,459.80 L533.80,458.54 L534.84,458.54 L534.84,457.12 L535.87,457.12 L535.87,456.19 L536.90,456.19 L536.90,455.86 L537.94,455.86 L537.94,453.36 L538.97,453.36 L538.97,451.97 L540.00,451.97 L540.00,450.86 L541.04,450.86 L541.04,449.18 L542.07,449.18 L542.07,447.72 L543.10,447.72 L543.10,447.24 L544.14,447.24 L544.14,445.73 L545.17,445.73 L545.17,444.57 L546.20,444.57 L546.20,442.85 L547.24,442.85 L547.24,440.92 L548.27,440.92 L548.27,439.20 L549.30,439.20 L549.30,438.79 L550.34,438.79 L550.34,438.41 L551.37,438.41 L551.37,438.39 L552.41,438.39 L552.41,438.18 L553.44,438.18 L553.44,438.21 L554.47,438.21 L554.47,438.24 L555.51,438.24 L555.51,436.38 L556.54,436.38 L556.54,434.70 L557.57,434.70 L557.57,433.17 L558.61,433.17 L558.61,427.67 L559.64,427.67 L559.64,415.24 L560.67,415.24 L560.67,413.76 L561.71,413.76 L561.71,412.34 L562.74,412.34 L562.74,410.95 L563.77,410.95 L563.77,409.05 L564.81,409.05 L564.81,407.48 L565.84,407.48 L565.84,405.07 L566.87,405.07 L566.87,403.56 L567.91,403.56 L567.91,401.56 L568.94,401.56 L568.94,400.55 L569.97,400.55 L569.97,398.70 L571.01,398.70 L571.01,397.47 L572.04,397.47 L572.04,396.25 L573.08,396.25 L573.08,395.19 L574.11,395.19 L574.11,395.19 L575.14,395.19 L575.14,396.27 L576.18,396.27 L576.18,398.02 L577.21,398.02 L577.21,398.49 L578.24,398.49 L578.24,400.14 L579.28,400.14 L579.28,397.45 L580.31,397.45 L580.31,395.29 L581.34,395.29 L581.34,392.37 L582.38,392.37 L582.38,390.93 L583.41,390.93 L583.41,388.40 L584.44,388.40 L584.44,387.23 L585.48,387.23 L585.48,387.23 L586.51,387.23 L586.51,385.72 L587.54,385.72 L587.54,385.67 L588.58,385.67 L588.58,381.14 L589.61,381.14 L589.61,374.91 L590.64,374.91 L590.64,385.40 L591.68,385.40 L591.68,383.51 L592.71,383.51 L592.71,379.32 L593.75,379.32 L593.75,373.27 L594.78,373.27 L594.78,364.44 L595.81,364.44 L595.81,349.75 L596.85,349.75 L596.85,336.94 L597.88,336.94 L597.88,327.86 L598.91,327.86 L598.91,321.39 L599.95,321.39 L599.95,317.31 L600.98,317.31 L600.98,312.42 L602.01,312.42 L602.01,307.23 L603.05,307.23 L603.05,296.55 L604.08,296.55 L604.08,285.83 L605.11,285.83 L605.11,273.61 L606.15,273.61 L606.15,258.55 L607.18,258.55 L607.18,251.14 L608.21,251.14 L608.21,248.72 L609.25,248.72 L609.25,245.22 L610.28,245.22 L610.28,242.75 L611.31,242.75 L611.31,239.78 L612.35,239.78 L612.35,236.41 L613.38,236.41 L613.38,232.92 L614.42,232.92 L614.42,229.45 L615.45,229.45 L615.45,224.93 L616.48,224.93 L616.48,220.37 L617.52,220.37 L617.52,215.50 L618.55,215.50 L618.55,210.78 L619.58,210.78 L619.58,197.36 L620.62,197.36 L620.62,192.26 L621.65,192.26 L621.65,193.91 L622.68,193.91 L622.68,186.55 L623.72,186.55 L623.72,181.48 L624.75,181.48 L624.75,180.27 L625.78,180.27 L625.78,184.38 L626.82,184.38 L626.82,194.67 L627.85,194.67 L627.85,205.16 L628.88,205.16 L628.88,207.94 L629.92,207.94 L629.92,209.69 L630.95,209.69 L630.95,207.93 L631.98,207.93 L631.98,204.63 L633.02,204.63 L633.02,205.70 L634.05,205.70 L634.05,209.70 L635.09,209.70 L635.09,221.19 L636.12,221.19 L636.12,233.42 L637.15,233.42 L637.15,238.03 L638.19,238.03 L638.19,242.97 L639.22,242.97 L639.22,247.85 L640.25,247.85 L640.25,252.79 L641.29,252.79 L641.29,256.85 L642.32,256.85 L642.32,259.85 L643.35,259.85 L643.35,259.28 L644.39,259.28 L644.39,258.34 L645.42,258.34 L645.42,257.70 L646.45,257.70 L646.45,261.59 L647.49,261.59 L647.49,265.88 L648.52,265.88 L648.52,273.83 L649.55,273.83 L649.55,287.82 L650.59,287.82 L650.59,302.71 L651.62,302.71 L651.62,303.85 L652.65,303.85 L652.65,302.74 L653.69,302.74 L653.69,310.44 L654.72,310.44 L654.72,326.42 L655.76,326.42 L655.76,329.17 L656.79,329.17 L656.79,332.64 L657.82,332.64 L657.82,336.90 L658.86,336.90 L658.86,338.72 L659.89,338.72 L659.89,340.61 L660.92,340.61 L660.92,344.46 L661.96,344.46 L661.96,347.09 L662.99,347.09 L662.99,353.82 L664.02,353.82 L664.02,358.87 L665.06,358.87 L665.06,365.57 L666.09,365.57 L666.09,368.19 L667.12,368.19 L667.12,365.17 L668.16,365.17 L668.16,366.29 L669.19,366.29 L669.19,372.99 L670.22,372.99 L670.22,369.19 L671.26,369.19 L671.26,367.81 L672.29,367.81 L672.29,369.39 L673.32,369.39 L673.32,370.42 L674.36,370.42 L674.36,371.15 L675.39,371.15 L675.39,372.57 L676.43,372.57 L676.43,374.37 L677.46,374.37 L677.46,376.70 L678.49,376.70 L678.49,379.30 L679.53,379.30 L679.53,380.17 L680.56,380.17 L680.56,381.91 L681.59,381.91 L681.59,380.71 L682.63,380.71 L682.63,378.71 L683.66,378.71 L683.66,377.74 L684.69,377.74 L684.69,378.22 L685.73,378.22 L685.73,379.00 L686.76,379.00 L686.76,378.70 L687.79,378.70 L687.79,377.64 L688.83,377.64 L688.83,376.06 L689.86,376.06 L689.86,375.50 L690.89,375.50 L690.89,376.64 L691.93,376.64 L691.93,378.81 L692.96,378.81 L692.96,381.44 L693.99,381.44 L693.99,385.02 L695.03,385.02 L695.03,388.84 L696.06,388.84 L696.06,392.15 L697.10,392.15 L697.10,395.57 L698.13,395.57 L698.13,400.04 L699.16,400.04 L699.16,404.92 L700.20,404.92 L700.20,410.70 L701.23,410.70 L701.23,417.92 L702.26,417.92 L702.26,419.96 L703.30,419.96 L703.30,422.35 L704.33,422.35 L704.33,425.05 L705.36,425.05 L705.36,426.64 L706.40,426.64 L706.40,429.24 L707.43,429.24 L707.43,430.65 L708.46,430.65 L708.46,432.65 L709.50,432.65 L709.50,434.37 L710.53,434.37 L710.53,433.70 L711.56,433.70 L711.56,433.54 L712.60,433.54 L712.60,436.16 L713.63,436.16 L713.63,438.37 L714.66,438.37 L714.66,441.11 L715.70,441.11 L715.70,443.99 L716.73,443.99 L716.73,445.35 L717.77,445.35 L717.77,446.95 L718.80,446.95 L718.80,447.95 L719.83,447.95 L719.83,449.41 L720.87,449.41 L720.87,451.16 L721.90,451.16 L721.90,451.19 L722.93,451.19 L722.93,451.34 L723.97,451.34 L723.97,452.22 L725.00,452.22 L725.00,452.61 L726.03,452.61 L726.03,453.51 L727.07,453.51 L727.07,453.53 L728.10,453.53 L728.10,453.77 L729.13,453.77 L729.13,454.39 L730.17,454.39 L730.17,455.41 L731.20,455.41 L731.20,455.21 L732.23,455.21 L732.23,455.44 L733.27,455.44 L733.27,454.90 L734.30,454.90 L734.30,454.52 L735.33,454.52 L735.33,454.26 L736.37,454.26 L736.37,452.08 L737.40,452.08 L737.40,449.34 L738.44,449.34 L738.44,451.43 L739.47,451.43 L739.47,451.98 L740.50,451.98 L740.50,450.26 L741.54,450.26 L741.54,449.56 L742.57,449.56 L742.57,448.88 L743.60,448.88 L743.60,451.27 L744.64,451.27 L744.64,452.28 L745.67,452.28 L745.67,451.17 L746.70,451.17 L746.70,451.28 L747.74,451.28 L747.74,450.96 L748.77,450.96 L748.77,450.24 L749.80,450.24 L749.80,449.14 L750.84,449.14 L750.84,449.68 L751.87,449.68 L751.87,449.57 L752.90,449.57 L752.90,449.10 L753.94,449.10 L753.94,449.97 L754.97,449.97 L754.97,450.04 L756.00,450.04 L756.00,451.85 L757.04,451.85 L757.04,453.69 L758.07,453.69 L758.07,454.35 L759.11,454.35 L759.11,455.18 L760.14,455.18 L760.14,454.72 L761.17,454.72 L761.17,453.12 L762.21,453.12 L762.21,449.23 L763.24,449.23 L763.24,444.95 L764.27,444.95 L764.27,440.88 L765.31,440.88 L765.31,437.93 L766.34,437.93 L766.34,434.78 L767.37,434.78 L767.37,433.05 L768.41,433.05 L768.41,430.59 L769.44,430.59 L769.44,428.66 L770.47,428.66 L770.47,426.84 L771.51,426.84 L771.51,425.31 L772.54,425.31 L772.54,425.91 L773.57,425.91 L773.57,424.34 L774.61,424.34 L774.61,423.27 L775.64,423.27 L775.64,419.25 L776.67,419.25 L776.67,416.27 L777.71,416.27 L777.71,412.41 L778.74,412.41 L778.74,408.89 L779.78,408.89 L779.78,405.82 L780.81,405.82 L780.81,403.64 L781.84,403.64 L781.84,401.55 L782.88,401.55 L782.88,398.68 L783.91,398.68 L783.91,395.15 L784.94,395.15 L784.94,391.43 L785.98,391.43 L785.98,387.86 L787.01,387.86 L787.01,384.40 L788.04,384.40 L788.04,380.18 L789.08,380.18 L789.08,376.41 L790.11,376.41 L790.11,373.39 L791.14,373.39 L791.14,369.84 L792.18,369.84 L792.18,366.89 L793.21,366.89 L793.21,365.41 L794.24,365.41 L794.24,369.22 L795.28,369.22 L795.28,373.17 L796.31,373.17 L796.31,373.34 L797.34,373.34 L797.34,369.24 L798.38,369.24 L798.38,366.14 L799.41,366.14 L799.41,366.12 L800.45,366.12 L800.45,366.21 L801.48,366.21 L801.48,368.83 L802.51,368.83 L802.51,371.45 L803.55,371.45 L803.55,368.08 L804.58,368.08 L804.58,365.78 L805.61,365.78 L805.61,363.03 L806.65,363.03 L806.65,364.93 L807.68,364.93 L807.68,366.58 L808.71,366.58 L808.71,368.77 L809.75,368.77 L809.75,370.50 L810.78,370.50 L810.78,371.83 L811.81,371.83 L811.81,372.66 L812.85,372.66 L812.85,372.90 L813.88,372.90 L813.88,375.96 L814.91,375.96 L814.91,377.58 L815.95,377.58 L815.95,379.36 L816.98,379.36 L816.98,380.38 L818.01,380.38 L818.01,380.68 L819.05,380.68 L819.05,380.40 L820.08,380.40 L820.08,382.22 L821.12,382.22 L821.12,385.40 L822.15,385.40 L822.15,388.81 L823.18,388.81 L823.18,392.68 L824.22,392.68 L824.22,397.48 L825.25,397.48 L825.25,398.76 L826.28,398.76 L826.28,397.83 L827.32,397.83 L827.32,397.21 L828.35,397.21 L828.35,399.25 L829.38,399.25 L829.38,401.25 L830.42,401.25 L830.42,402.49 L831.45,402.49 L831.45,403.04 L832.48,403.04 L832.48,401.75 L833.52,401.75 L833.52,398.85 L834.55,398.85 L834.55,398.75 L835.58,398.75 L835.58,401.92 L836.62,401.92 L836.62,390.89 L837.65,390.89 L837.65,385.65 L838.68,385.65 L838.68,385.42 L839.72,385.42 L839.72,384.39 L840.75,384.39 L840.75,382.58 L841.79,382.58 L841.79,380.90 L842.82,380.90 L842.82,378.59 L843.85,378.59 L843.85,376.41 L844.89,376.41 L844.89,374.11 L845.92,374.11 L845.92,371.60 L846.95,371.60 L846.95,370.02 L847.99,370.02 L847.99,365.18 L849.02,365.18 L849.02,359.31 L850.05,359.31 L850.05,350.51 L851.09,350.51 L851.09,342.93 L852.12,342.93 L852.12,341.11 L853.15,341.11 L853.15,338.79 L854.19,338.79 L854.19,335.74 L855.22,335.74 L855.22,334.11 L856.25,334.11 L856.25,331.07 L857.29,331.07 L857.29,330.77 L858.32,330.77 L858.32,329.50 L859.35,329.50 L859.35,332.06 L860.39,332.06 L860.39,333.96 L861.42,333.96 L861.42,333.48 L862.46,333.48 L862.46,334.00 L863.49,334.00 L863.49,336.67 L864.30,336.67 L864.3,468.25 Z" fill="#44e896" fill-opacity="0.4"/>
<line x1="107.5" x2="107.5" y1="116.6" y2="468.25" stroke="#7a7a7a" stroke-width="1"/>
<line x1="865.3" x2="865.3" y1="116.6" y2="468.25" stroke="#fcd3a3" stroke-width="1"/>
<line x1="915" x2="915" y1="116.6" y2="468.25" stroke="#9aefc5" stroke-width="1.4"/>
<g stroke="#e6e6e6" stroke-width="1"><line x1="108" x2="864.5" y1="468.6" y2="468.6"/><line x1="144.5" x2="144.5" y1="468.25" y2="476.8"/><line x1="207.5" x2="207.5" y1="468.25" y2="476.8"/><line x1="270.25" x2="270.25" y1="468.25" y2="476.8"/><line x1="332.5" x2="332.5" y1="468.25" y2="476.8"/><line x1="395.5" x2="395.5" y1="468.25" y2="476.8"/><line x1="458" x2="458" y1="468.25" y2="476.8"/><line x1="522" x2="522" y1="468.25" y2="476.8"/><line x1="585" x2="585" y1="468.25" y2="476.8"/><line x1="648" x2="648" y1="468.25" y2="476.8"/><line x1="708.75" x2="708.75" y1="468.25" y2="476.8"/><line x1="771.75" x2="771.75" y1="468.25" y2="476.8"/><line x1="834.75" x2="834.75" y1="468.25" y2="476.8"/></g>
<g class="ax"><text x="95.5" y="120.05" text-anchor="end" textLength="27.2" lengthAdjust="spacingAndGlyphs">$200k</text><text x="95.5" y="225.91" text-anchor="end" textLength="25.6" lengthAdjust="spacingAndGlyphs">$100k</text><text x="95.5" y="280.38" text-anchor="end" textLength="20.6" lengthAdjust="spacingAndGlyphs">$70k</text><text x="95.5" y="331.76" text-anchor="end" textLength="20.8" lengthAdjust="spacingAndGlyphs">$50k</text><text x="95.5" y="409.78" text-anchor="end" textLength="20.8" lengthAdjust="spacingAndGlyphs">$30k</text><text x="95.5" y="471.70" text-anchor="end" textLength="20.8" lengthAdjust="spacingAndGlyphs">$20k</text><text x="877.7" y="145.30" textLength="11.9" lengthAdjust="spacingAndGlyphs">$1t</text><text x="877.7" y="196.40" textLength="27.1" lengthAdjust="spacingAndGlyphs">$900b</text><text x="877.7" y="247.50" textLength="27.1" lengthAdjust="spacingAndGlyphs">$800b</text><text x="877.7" y="298.50" textLength="27.1" lengthAdjust="spacingAndGlyphs">$700b</text><text x="877.7" y="349.40" textLength="27.1" lengthAdjust="spacingAndGlyphs">$600b</text><text x="877.7" y="400.30" textLength="27.1" lengthAdjust="spacingAndGlyphs">$500b</text><text x="877.7" y="451.20" textLength="27.1" lengthAdjust="spacingAndGlyphs">$400b</text><text x="921.7" y="471.30" textLength="13.1" lengthAdjust="spacingAndGlyphs">0%</text><text x="921.7" y="427.33" textLength="13.1" lengthAdjust="spacingAndGlyphs">2%</text><text x="921.7" y="383.36" textLength="13.1" lengthAdjust="spacingAndGlyphs">4%</text><text x="921.7" y="339.39" textLength="13.1" lengthAdjust="spacingAndGlyphs">6%</text><text x="921.7" y="295.42" textLength="13.1" lengthAdjust="spacingAndGlyphs">8%</text><text x="921.7" y="251.45" textLength="17.25" lengthAdjust="spacingAndGlyphs">10%</text><text x="921.7" y="207.48" textLength="17.25" lengthAdjust="spacingAndGlyphs">12%</text><text x="921.7" y="163.51" textLength="17.25" lengthAdjust="spacingAndGlyphs">14%</text><text x="921.7" y="119.54" textLength="17.25" lengthAdjust="spacingAndGlyphs">16%</text><text x="144.5" y="488.8" text-anchor="middle" textLength="34.6" lengthAdjust="spacingAndGlyphs">Sep '23</text><text x="207.5" y="488.8" text-anchor="middle" textLength="34.3" lengthAdjust="spacingAndGlyphs">Nov '23</text><text x="270.25" y="488.8" text-anchor="middle" textLength="32.8" lengthAdjust="spacingAndGlyphs">Jan '24</text><text x="332.5" y="488.8" text-anchor="middle" textLength="33.9" lengthAdjust="spacingAndGlyphs">Mar '24</text><text x="395.5" y="488.8" text-anchor="middle" textLength="35.6" lengthAdjust="spacingAndGlyphs">May '24</text><text x="458" y="488.8" text-anchor="middle" textLength="29.6" lengthAdjust="spacingAndGlyphs">Jul '24</text><text x="522" y="488.8" text-anchor="middle" textLength="34.6" lengthAdjust="spacingAndGlyphs">Sep '24</text><text x="585" y="488.8" text-anchor="middle" textLength="34.3" lengthAdjust="spacingAndGlyphs">Nov '24</text><text x="648" y="488.8" text-anchor="middle" textLength="32.8" lengthAdjust="spacingAndGlyphs">Jan '25</text><text x="708.75" y="488.8" text-anchor="middle" textLength="33.9" lengthAdjust="spacingAndGlyphs">Mar '25</text><text x="771.75" y="488.8" text-anchor="middle" textLength="35.6" lengthAdjust="spacingAndGlyphs">May '25</text><text x="834.75" y="488.8" text-anchor="middle" textLength="29.6" lengthAdjust="spacingAndGlyphs">Jul '25</text></g>
<line x1="661" x2="848.5" y1="134.1" y2="134.1" stroke="#3f7df8" stroke-width="1" stroke-dasharray="3 3.2"/>
<circle cx="861.4" cy="134.3" r="12.9" fill="#2b66f6" fill-opacity="0.17" stroke="#2f6ef7" stroke-width="1.2" stroke-dasharray="3 3.1"/>
<text x="661.3" y="128.8" font-size="14.1" font-weight="bold" fill="#155bfb" textLength="172.3" lengthAdjust="spacingAndGlyphs">Realized Cap ATH: $1.02T</text>
<text x="25.5" y="550.4" font-size="13" fill="#727272" stroke="#727272" stroke-width="0.15" textLength="228" lengthAdjust="spacingAndGlyphs">© 2025 Glassnode. All Rights Reserved.</text>
<text x="871.5" y="553.6" font-size="24.6" fill="#dcdcdc" stroke="#dcdcdc" stroke-width="0.4" stroke-linejoin="round" textLength="126" lengthAdjust="spacingAndGlyphs">glassnode</text>
</svg>
</body></html>
